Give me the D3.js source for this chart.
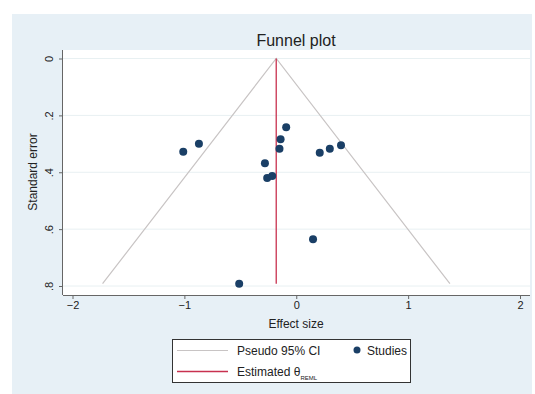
<!DOCTYPE html>
<html><head><meta charset="utf-8">
<script src="https://cdn.jsdelivr.net/npm/d3@7"></script>
<style>body{margin:0;background:#fff}svg{display:block;font-family:"Liberation Sans",Arial,sans-serif}</style>
</head><body>
<svg id="c" width="535" height="394"></svg>
<script>
const effectSize = [-1.01, -0.87, -0.28, -0.26, -0.215, -0.09, -0.14, -0.15, 0.21, 0.30, 0.40, 0.15, -0.51];
const stdError   = [0.328, 0.300, 0.368, 0.420, 0.413, 0.242, 0.284, 0.317, 0.331, 0.317, 0.305, 0.636, 0.792];
const thetaREML = -0.179;
const xTicks = [-2, -1, 0, 1, 2];
const yTicks = [0, 0.2, 0.4, 0.6, 0.8];
const yTickLabels = ["0", ".2", ".4", ".6", ".8"];

const svg = d3.select("#c");
svg.append("rect").attr("x",12).attr("y",14).attr("width",520).attr("height",380).attr("fill","#e7f0f6");
const x = d3.scaleLinear().domain([-2,2]).range([72.5,520]);
const y = d3.scaleLinear().domain([0,0.8]).range([58.5,286]);
const L=63,R=530,T=50,B=295;
svg.append("rect").attr("x",L).attr("y",T).attr("width",R-L).attr("height",B-T).attr("fill","#fff");

// gridlines
svg.append("g").selectAll("line").data(yTicks).join("line")
  .attr("x1",L).attr("x2",R).attr("y1",d=>y(d)).attr("y2",d=>y(d))
  .attr("stroke","#e8f0f2").attr("stroke-width",1);

// axes
const xa = svg.append("g").attr("transform",`translate(0,${B})`)
  .call(d3.axisBottom(x).tickValues(xTicks).tickSize(4).tickPadding(2).tickFormat(d3.format("d")));
xa.select(".domain").attr("d",`M${L},0.5H${R}`);
const ya = svg.append("g").attr("transform",`translate(${L},0)`)
  .call(d3.axisLeft(y).tickValues(yTicks).tickSize(4).tickFormat((d,i)=>yTickLabels[i]));
ya.select(".domain").attr("d",`M-0.5,${T}V${B}`);
[xa,ya].forEach(g=>{g.selectAll(".domain").attr("stroke","#666");g.selectAll(".tick line").attr("stroke","#666");
  g.selectAll("text").attr("fill","#222").style("font-size","11px").style("font-family","Liberation Sans, Arial, sans-serif");});
ya.selectAll(".tick text").attr("transform","rotate(-90)").attr("x",0).attr("y",-10).attr("dy","0").attr("text-anchor","middle");

// funnel
const seMax = d3.max(stdError);
const funnel = [[thetaREML-1.96*seMax, seMax],[thetaREML,0],[thetaREML+1.96*seMax, seMax]];
svg.append("path").attr("d",d3.line().x(d=>x(d[0])).y(d=>y(d[1]))(funnel))
  .attr("fill","none").attr("stroke","#c8c4c4").attr("stroke-width",1.2);
svg.append("line").attr("x1",x(thetaREML)).attr("x2",x(thetaREML)).attr("y1",y(0)).attr("y2",y(seMax))
  .attr("stroke","#c8314f").attr("stroke-width",1.3);

// points
svg.append("g").selectAll("circle").data(effectSize).join("circle")
  .attr("cx",d=>x(d)).attr("cy",(d,i)=>y(stdError[i])).attr("r",4).attr("fill","#1a3f66");

// titles
svg.append("text").attr("x",296).attr("y",46).attr("text-anchor","middle").style("font-size","16px").attr("fill","#222").text("Funnel plot");
svg.append("text").attr("x",296).attr("y",328).attr("text-anchor","middle").style("font-size","12px").attr("fill","#222").text("Effect size");
svg.append("text").attr("transform","translate(37,172) rotate(-90)").attr("text-anchor","middle").style("font-size","12px").attr("fill","#222").text("Standard error");

// legend
const lg = svg.append("g");
lg.append("rect").attr("x",172.5).attr("y",339.5).attr("width",238).attr("height",43).attr("fill","#fff").attr("stroke","#333").attr("stroke-width",1);
lg.append("line").attr("x1",177).attr("x2",228).attr("y1",350.5).attr("y2",350.5).attr("stroke","#c8c4c4").attr("stroke-width",1.2);
lg.append("line").attr("x1",177).attr("x2",228).attr("y1",371.5).attr("y2",371.5).attr("stroke","#c8314f").attr("stroke-width",1.3);
lg.append("text").attr("x",237).attr("y",355).style("font-size","12px").attr("fill","#222").text("Pseudo 95% CI");
const t2 = lg.append("text").attr("x",237).attr("y",376).style("font-size","12px").attr("fill","#222");
t2.append("tspan").text("Estimated θ");
t2.append("tspan").attr("dy",4).style("font-size","6px").text("REML");
lg.append("circle").attr("cx",357).attr("cy",350).attr("r",3.5).attr("fill","#1a3f66");
lg.append("text").attr("x",367).attr("y",355).style("font-size","12px").attr("fill","#222").text("Studies");
</script>
</body></html>
